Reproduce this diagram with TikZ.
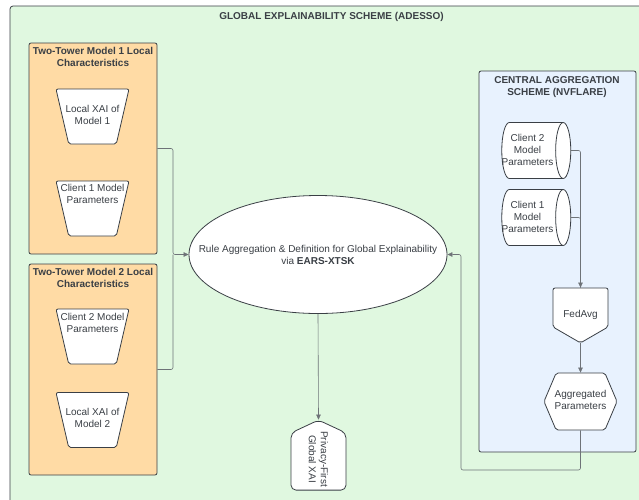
\documentclass[tikz,border=0pt]{standalone}
\usepackage{fontspec}
\setmainfont{Liberation Sans}
\usepackage{tikz}
\usetikzlibrary{arrows.meta}
\usetikzlibrary{shapes.geometric}
\usetikzlibrary{shapes.symbols}
\usetikzlibrary{positioning}

\definecolor{ink}{HTML}{3A3F45}
\definecolor{wire}{HTML}{6E7378}
\definecolor{bggreen}{HTML}{E0F8E0}
\definecolor{orbox}{HTML}{FFDBA5}
\definecolor{blbox}{HTML}{E8F2FE}

\begin{document}
\begin{tikzpicture}[x=1pt, y=-1pt,
        every node/.style={font=\fontsize{10}{12}\selectfont, text=ink, inner sep=0pt},
        heading/.style={font=\bfseries\fontsize{10}{12}\selectfont, align=center},
        label/.style={align=center},
        towerbox/.style={draw=ink, fill=orbox, line width=0.8pt, rounded corners=2pt,
            minimum width=128pt, minimum height=211pt},
        centralbox/.style={draw=ink, fill=blbox, line width=0.8pt, rounded corners=2pt,
            minimum width=157pt, minimum height=381pt},
        trap/.style={trapezium, draw=ink, fill=white, line width=0.8pt,
            rounded corners=2pt, trapezium angle=77, shape border rotate=180,
            text width=47.6pt, text height=55pt, text depth=0pt},
        store/.style={cylinder, draw=ink, fill=white, line width=0.8pt, aspect=0.27,
            inner xsep=0pt, inner ysep=28pt, minimum width=56pt, minimum height=69pt},
        pointer/.style={signal, draw=ink, fill=white, line width=0.8pt, rounded corners=2pt},
        conn/.style={draw=wire, line width=0.6pt, rounded corners=2pt},
        arr/.style={conn, -{Triangle[length=5pt, width=4.5pt]}},
    ]
    \clip (0,0) rectangle (639,499);
    \fill[white] (0,0) rectangle (639,499);
    \draw[draw=ink, fill=bggreen, line width=0.8pt, rounded corners=3pt] (10,6) rectangle (680,540);
    \node[heading] (title) at (331.5,17) {GLOBAL EXPLAINABILITY SCHEME (ADESSO)};

    % local side
    \node[towerbox] (tower1) at (93,148.5) {};
    \node[heading] (tower1h) at (93,56.5) {Two-Tower Model 1 Local\\Characteristics};
    \node[trap] (xai1) at (92.5,116.5) {};
    \node[label] (xai1t) at (92.5,115) {Local XAI of\\Model 1};
    \node[trap] (par1) at (92.5,208.5) {};
    \node[label] (par1t) at (92.5,194) {Client 1 Model\\Parameters};

    \node[towerbox] (tower2) at (93,369.5) {};
    \node[heading] (tower2h) at (93,277.5) {Two-Tower Model 2 Local\\Characteristics};
    \node[trap] (par2) at (92.5,336.5) {};
    \node[label] (par2t) at (92.5,323) {Client 2 Model\\Parameters};
    \node[trap] (xai2) at (92.5,420) {};
    \node[label] (xai2t) at (92.5,418) {Local XAI of\\Model 2};

    % rule aggregation
    \node[ellipse, draw=ink, fill=white, line width=0.8pt, minimum width=258pt,
        minimum height=118pt] (rules) at (318,254.5) {};
    \node[label] (rulest) at (318,254.5)
        {Rule Aggregation \& Definition for Global Explainability\\via \textbf{EARS-XTSK}};
    \node[pointer, signal to=west, signal from=nowhere, signal pointer angle=130, rotate=-90,
        rounded corners=5pt, minimum width=70pt, minimum height=55pt] (global) at (318.5,461.5) {};
    \node[label, rotate=-90] (globalt) at (318.5,459) {Privacy-First\\Global XAI};

    % central side
    \node[centralbox] (central) at (557.5,261.5) {};
    \node[heading] (centralh) at (557,87.5) {CENTRAL AGGREGATION\\SCHEME (NVFLARE)};
    \node[store] (cpar2) at (528.5,150.5) {};
    \node[label] (cpar2t) at (527.5,150) {Client 2\\Model\\Parameters};
    \node[store] (cpar1) at (528.5,217.5) {};
    \node[label] (cpar1t) at (527.5,217) {Client 1\\Model\\Parameters};
    \node[pointer, signal to=south, signal from=nowhere, signal pointer angle=120,
        minimum width=55pt, minimum height=39pt] (fedavg) at (580.5,307.5) {};
    \node (fedavgt) at (580.5,315) {FedAvg};
    \node[pointer, signal to=east and west, signal from=nowhere, signal pointer angle=134,
        minimum width=73pt, minimum height=57pt] (aggr) at (580.5,401.5) {};
    \node[label] (aggrt) at (580.5,400) {Aggregated\\Parameters};

    % connectors
    \coordinate (joinL) at (173,254.5);
    \coordinate (joinR) at (461,470);
    \draw[arr] (tower1.east) -| (joinL) -- (rules.west);
    \draw[conn] (tower2.east) -| (joinL);
    \draw[arr] (rules.south) -- (global.west);
    \draw[conn] (cpar2.east) -| (fedavg.north);
    \draw[arr] (cpar1.east) -| (fedavg.north);
    \draw[arr] (fedavg.south) -- (aggr.north);
    \draw[arr] (aggr.south) |- (joinR) |- (rules.east);
\end{tikzpicture}
\end{document}
